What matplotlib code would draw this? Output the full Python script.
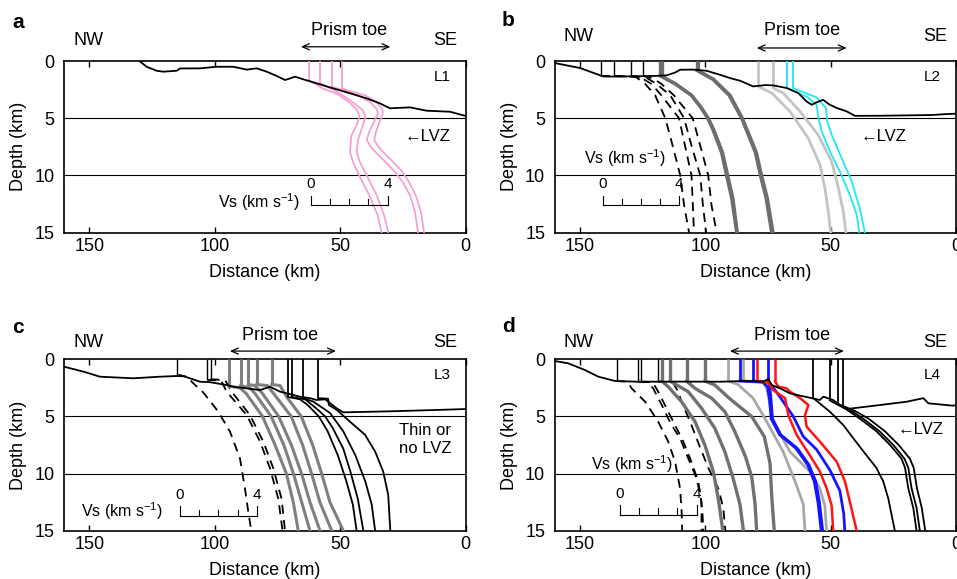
import numpy as np
import matplotlib
matplotlib.use('Agg')
import matplotlib.pyplot as plt

plt.rcParams['font.family'] = ['Liberation Sans', 'DejaVu Sans']
plt.rcParams['mathtext.default'] = 'regular'

VS_KM = 7.65  # km of distance per 1 km/s of Vs (profile scale)

# ---------------- panel a (L1) ----------------
bathy_a_x = [130, 127.2, 123.2, 120.5, 115.2, 113.9, 105.9, 99.3, 92.6, 87.3, 83.3, 79.3, 75.3, 72,
             68, 64.7, 59.4, 52.8, 46.1, 39.5, 34.2, 30.2, 22.2, 15.6, 6.3, 0]
bathy_a_z = [0, 0.5, 0.85, 0.93, 0.85, 0.65, 0.64, 0.5, 0.5, 0.75, 0.64, 0.93, 1.31, 1.66,
             1.37, 1.6, 1.95, 2.39, 2.82, 3.26, 3.7, 4.13, 4.05, 4.34, 4.43, 4.8]

a_pink_x0 = [62.5, 58.1, 53.4, 49.4]
a_pink_z = [
    [1.66, 2.4, 2.9, 3.5, 4.2, 4.8, 5.5, 6.5, 7.9, 8.8, 10.2, 11.7, 13.5, 15],
    [1.95, 2.5, 3.0, 3.6, 4.3, 4.9, 5.6, 6.8, 7.9, 8.8, 10.2, 11.7, 13.5, 15],
    [2.24, 2.6, 3.0, 3.6, 4.2, 4.6, 5.3, 6.2, 6.9, 7.6, 8.6, 9.6, 10.6, 11.8, 13.2, 15],
    [2.4, 2.7, 3.0, 3.6, 4.2, 4.6, 5.3, 6.2, 6.9, 7.6, 8.6, 9.6, 10.6, 11.8, 13.2, 15],
]
a_pink_vs = [
    [0, 0.72, 1.50, 2.03, 2.48, 2.64, 2.52, 2.22, 2.14, 2.29, 2.68, 3.14, 3.59, 3.79],
    [0, 0.67, 1.19, 1.71, 2.24, 2.37, 2.24, 2.0, 1.91, 2.07, 2.50, 2.95, 3.35, 3.56],
    [0, 0.71, 1.36, 2.01, 2.34, 2.41, 2.21, 1.95, 1.82, 2.08, 2.67, 3.25, 3.71, 4.10, 4.34, 4.50],
    [0, 0.58, 1.23, 1.82, 2.12, 2.14, 1.97, 1.78, 1.69, 1.95, 2.54, 3.12, 3.52, 3.87, 4.13, 4.29],
]

# ---------------- panel b (L2) ----------------
bathy_b_x = [160, 150, 140.7, 135, 128, 120, 115.4, 112, 110, 105, 99.5, 94.2, 90, 86.2, 80.9, 76,
             72.9, 67.5, 62.9, 59.6, 57.6, 55.5, 53, 50.5, 47.6, 43.6, 40.3, 30, 20, 10, 5, 0]
bathy_b_z = [0.18, 0.61, 1.35, 1.36, 1.33, 1.3, 1.25, 1.0, 0.76, 0.75, 0.85, 1.2, 1.5, 1.72, 2.22, 2.1,
             2.13, 2.36, 2.8, 3.53, 3.82, 3.6, 3.39, 3.8, 4.1, 4.4, 4.79, 4.78, 4.75, 4.72, 4.65, 4.6]

b_dash_x0 = [141.6, 136.5, 129.5, 125.0]
b_dash_z = [
    [1.3, 1.35, 2, 3, 5, 7, 10, 12.6, 15],
    [1.3, 1.4, 2, 3, 5, 7, 10, 12.6, 15],
    [1.3, 1.45, 2, 3, 5, 7, 10, 12.6, 15],
    [1.3, 1.5, 2, 3, 5, 7, 10, 12.6, 15],
]
b_dash_vs = [
    [0, 1.78, 2.30, 2.82, 3.35, 3.67, 4.13, 4.33, 4.59],
    [0, 1.37, 1.96, 2.48, 3.40, 3.66, 4.05, 4.12, 4.18],
    [0, 0.78, 1.31, 2.03, 2.75, 3.07, 3.59, 3.73, 3.90],
    [0, 0.52, 0.98, 1.63, 2.61, 2.94, 3.42, 3.59, 3.86],
]

b_dark_x0 = [118.0, 117.3, 103.5, 102.8]
b_dark_z = [
    [1.3, 2, 3, 4, 5, 6, 8, 10, 12, 15],
    [1.35, 2, 3, 4, 5, 6, 8, 10, 12, 15],
    [0.8, 1.6, 3, 5, 8, 10, 12, 15],
    [0.85, 1.6, 3, 5, 8, 10, 12, 15],
]
b_dark_vs = [
    [0, 0.78, 1.63, 2.09, 2.48, 2.75, 3.20, 3.46, 3.73, 3.99],
    [0, 0.72, 1.55, 2.02, 2.42, 2.70, 3.16, 3.43, 3.70, 3.93],
    [0, 0.85, 1.70, 2.35, 3.07, 3.33, 3.63, 3.92],
    [0, 0.80, 1.66, 2.30, 3.03, 3.30, 3.60, 3.90],
]

b_light_x0 = [78.9, 72.9]
b_light_z = [[2.22, 2.8, 4.41, 6.74, 9.07, 11.1, 13.2, 15],
             [2.36, 2.8, 4.41, 6.45, 8.8, 11.1, 13.2, 15]]
b_light_vs = [[0, 0.71, 1.66, 2.61, 3.22, 3.48, 3.66, 3.78],
              [0, 0.52, 1.40, 2.34, 3.05, 3.40, 3.66, 3.79]]

b_cyan_x0 = [67.5, 65.1]
b_cyan_z = [[2.36, 3.1, 3.82, 4.84, 6.16, 7.9, 9.66, 11.7, 13.45, 15],
            [2.36, 3.18, 4.11, 5.28, 6.45, 8.49, 10.5, 12.9, 15]]
b_cyan_vs = [[0, 1.03, 1.56, 1.63, 1.82, 2.25, 2.77, 3.29, 3.65, 3.78],
             [0, 1.24, 1.73, 1.80, 2.03, 2.55, 3.07, 3.50, 3.76]]

# ---------------- panel c (L3) ----------------
bathy_c_x = [160, 152, 145.8, 132.5, 121.9, 115.2, 113.9, 109.9, 105.9, 101.9, 95.3, 92.6, 87.3, 82,
             78, 74, 70, 66.1, 62, 59.4, 56, 51.4, 48.8, 30, 10, 0]
bathy_c_z = [0.65, 1.1, 1.52, 1.66, 1.52, 1.46, 1.37, 1.66, 1.96, 2.0, 2.25, 2.4, 2.54, 2.69,
             2.4, 2.83, 3.05, 3.27, 3.4, 3.56, 3.5, 4.29, 4.64, 4.55, 4.42, 4.35]

c_dash_x0 = [115.0, 103.0, 101.7]
c_dash_z = [[1.45, 1.5, 2.1, 2.9, 4.58, 6.33, 8.66, 11.3, 13.3, 15],
            [1.8, 1.85, 2.83, 4.87, 7.2, 9.55, 12.2, 15],
            [1.75, 1.8, 2.83, 4.87, 7.2, 9.55, 12.2, 15]]
c_dash_vs = [[0, 0.50, 0.84, 1.36, 2.14, 2.75, 3.27, 3.53, 3.70, 3.86],
             [0, 0.72, 1.01, 2.05, 2.75, 3.27, 3.70, 3.92],
             [0, 0.75, 1.10, 2.05, 2.75, 3.27, 3.70, 3.88]]

c_gray_x0 = [94.2, 89.7, 86.7, 83.3, 77.3]
c_gray_z = [[2.35, 2.5, 3, 5, 7.5, 10, 12.5, 15],
            [2.3, 2.5, 3, 5, 7.5, 10, 12.5, 15],
            [2.2, 2.3, 3, 5, 7.5, 10, 12.5, 15],
            [2.2, 2.3, 3.3, 5, 7.5, 10, 12.5, 15],
            [2.2, 2.3, 3.4, 5, 7.5, 10, 12.5, 15]]
c_gray_vs = [[0, 0.55, 0.88, 1.73, 2.38, 2.97, 3.33, 3.59],
             [0, 0.48, 0.75, 1.59, 2.25, 2.75, 3.18, 3.61],
             [0, 0.35, 0.75, 1.59, 2.25, 2.78, 3.22, 3.74],
             [0, 0.56, 1.02, 1.80, 2.39, 2.86, 3.29, 3.91],
             [0, 0.43, 0.82, 1.54, 2.13, 2.60, 3.03, 3.73]]

c_black_x0 = [70.7, 69.4, 64.7, 58.8]
c_black_z = [[3.3, 3.5, 4.0, 5, 6.3, 8.4, 10.7, 12.7, 15],
             [3.3, 3.5, 4.4, 5, 6, 7.8, 9.8, 12.2, 15],
             [3.4, 3.7, 4.7, 6.3, 8.4, 10.7, 12.7, 15],
             [3.4, 3.45, 4.0, 4.43, 5.46, 6.6, 8.08, 9.83, 11.87, 15]]
c_black_vs = [[0, 0.61, 1.01, 1.59, 2.05, 2.58, 3.03, 3.36, 3.56],
              [0, 0.71, 1.36, 1.75, 2.14, 2.69, 3.06, 3.45, 3.74],
              [0, 0.52, 1.39, 2.08, 2.71, 3.23, 3.56, 3.74],
              [0, 0.52, 0.56, 0.97, 1.66, 2.44, 2.97, 3.39, 3.65, 3.76]]

# ---------------- panel d (L4) ----------------
bathy_d_x = [160, 154.7, 148, 142.7, 136, 126.8, 110, 94.2, 84.2, 80.9, 76.9, 74.9, 73.5, 70.2, 66.2,
             62.2, 58.3, 54.3, 52.9, 49, 46.3, 43.6, 30.3, 19.7, 13, 11, 1.1, 0]
bathy_d_z = [0.15, 0.35, 0.94, 1.52, 1.9, 1.96, 1.95, 1.96, 1.9, 1.9, 1.96, 1.72, 2.25, 2.54, 2.98,
             3.18, 3.36, 3.56, 3.27, 3.56, 4.0, 4.35, 4.0, 3.71, 3.4, 3.85, 4.06, 4.0]

d_dash_x0 = [135.4, 126.8, 125.7, 119.0]
d_dash_z = [[1.9, 1.95, 2.54, 3.7, 5.46, 7.2, 8.96, 11.3, 13.3, 15],
            [1.95, 2.0, 2.54, 4.0, 5.75, 6.9, 8.66, 10.1, 11.6, 13.3, 15],
            [1.95, 2.0, 2.83, 4.0, 5.46, 7.2, 9.0, 10.7, 12.5, 15],
            [1.95, 2.0, 2.83, 3.7, 5.5, 7.5, 9.5, 11.3, 13, 15]]
d_dash_vs = [[0, 0.58, 0.78, 1.48, 2.17, 2.69, 3.05, 3.31, 3.39, 3.42],
             [0, 0.50, 0.78, 1.23, 1.74, 2.18, 2.61, 2.97, 3.22, 3.35, 3.40],
             [0, 0.61, 0.90, 1.25, 1.69, 2.21, 2.64, 2.99, 3.16, 3.16],
             [0, 0.78, 1.07, 1.24, 1.70, 2.16, 2.64, 3.16, 3.42, 3.53]]

d_dark_x0 = [117.4, 114.1, 107.5, 100.2]
d_dark_z = [[1.9, 2.4, 3.7, 5.46, 7.5, 9.83, 12.2, 15],
            [1.9, 2.83, 4.29, 6.04, 8.08, 10.4, 12.7, 15],
            [1.9, 2.54, 3.4, 4.58, 6.33, 8.5, 10.3, 12.6, 15],
            [1.9, 2.25, 3.4, 5.0, 6.75, 9.1, 12, 15]]
d_dark_vs = [[0, 0.34, 1.03, 1.74, 2.25, 2.69, 2.95, 3.19],
             [0, 0.95, 1.65, 2.34, 2.86, 3.29, 3.65, 3.83],
             [0, 0.44, 1.31, 2.0, 2.52, 3.07, 3.40, 3.57, 3.66],
             [0, 0.52, 1.27, 2.44, 3.10, 3.40, 3.49, 3.62]]

d_light_x0 = [90.8, 84.9]
d_light_z = [[1.9, 2.2, 3.4, 5.46, 8.1, 10.7, 12.7, 15],
             [1.9, 2.0, 2.54, 5.46, 8.08, 9.83, 11.3, 12.8, 15]]
d_light_vs = [[0, 0.50, 1.29, 2.0, 2.86, 3.48, 3.91, 3.99],
              [0, 1.03, 1.23, 1.57, 2.44, 3.48, 4.0, 4.26, 4.35]]

d_blue_x0 = [86.2, 80.9, 74.9]
d_blue_z = [[1.9, 2.0, 2.4, 3.4, 5.2, 6.6, 7.8, 9.25, 10.7, 12.5, 15],
            [1.9, 2.0, 3.3, 5.0, 6.75, 7.9, 9.7, 11.5, 13.5, 15],
            [1.9, 2.4, 3.4, 5.2, 6.6, 7.8, 9.25, 10.7, 12.5, 15]]
d_blue_vs = [[0, 1.20, 1.44, 1.54, 1.63, 2.07, 2.93, 3.54, 3.88, 4.07, 4.24],
             [0, 0.84, 1.40, 2.09, 2.61, 3.31, 4.0, 4.52, 4.72, 4.78],
             [0, 0.08, 0.14, 0.22, 0.65, 1.52, 2.13, 2.48, 2.67, 2.84]]

d_red_x0 = [79.5, 72.2]
d_red_z = [[1.9, 2.0, 2.7, 3.4, 4.9, 6.6, 8.4, 9.8, 11.3, 12.8, 15],
           [1.9, 2.4, 2.54, 2.83, 3.4, 4.0, 4.9, 5.9, 7.2, 8.96, 10.7, 12.5, 15]]
d_red_vs = [[0, 0.59, 0.86, 1.48, 1.65, 2.08, 2.77, 3.29, 3.65, 3.91, 3.99],
            [0, 0.17, 0.60, 0.78, 1.31, 1.74, 1.56, 1.65, 2.34, 3.22, 3.65, 3.91, 4.26]]

d_black_x0 = [56.9, 50.3, 47.0, 45.0]
d_black_z = [[3.4, 4.58, 5.75, 6.9, 8.4, 9.5, 10.7, 12.2, 13.6, 15],
             [3.6, 4.4, 5.2, 6.3, 7.5, 8.7, 9.5, 11.3, 13.0, 15],
             [3.9, 4.4, 5.2, 6.3, 7.5, 8.7, 9.5, 11.3, 13.0, 15],
             [4.1, 4.5, 5.2, 6.3, 7.5, 8.7, 9.5, 11.3, 13.0, 15]]
d_black_vs = [[0, 0.86, 1.56, 2.08, 2.77, 3.29, 3.65, 3.91, 4.08, 4.25],
              [0, 0.88, 1.57, 2.43, 3.14, 3.74, 3.92, 4.09, 4.35, 4.52],
              [0, 0.59, 1.31, 2.16, 2.88, 3.46, 3.66, 3.83, 4.09, 4.26],
              [0, 0.60, 1.33, 2.18, 2.90, 3.48, 3.68, 3.85, 4.10, 4.28]]

# prism toe extent (km)
toe_a = (65.7, 30.0)
toe_b = (79.5, 43.6)
toe_c = (94.0, 51.7)
toe_d = (90.2, 44.7)

DASH = (0, (5, 3.5))


def draw_profiles(ax, x0s, zs, vss, color, lw, dashed=False):
    for x0, z, vs in zip(x0s, zs, vss):
        z = np.asarray(z)
        vs = np.asarray(vs)
        # water column (Vs = 0) from the sea surface to the seafloor
        ax.plot([x0, x0], [0, z[0]], color=color, lw=1.0 if dashed else lw,
                solid_capstyle='butt', zorder=3)
        ax.plot(x0 - VS_KM * vs, z, color=color, lw=lw,
                ls=DASH if dashed else '-', zorder=3)


def vs_bar(ax, x_start, z_bar, lab_x, lab_z, lab_ha):
    v = np.arange(5)
    xs = x_start - VS_KM * v
    ax.plot([xs[0], xs[-1]], [z_bar, z_bar], color='k', lw=0.8, zorder=4)
    for vi, x in zip(v, xs):
        h = 0.85 if vi in (0, 4) else 0.55
        ax.plot([x, x], [z_bar, z_bar - h], color='k', lw=0.8, zorder=4)
    ax.text(xs[0], z_bar - 1.85, '0', ha='center', va='center', fontsize=11)
    ax.text(xs[-1], z_bar - 1.85, '4', ha='center', va='center', fontsize=11)
    ax.text(lab_x, lab_z, 'Vs (km s$^{-1}$)', ha=lab_ha, va='center', fontsize=11.5)


def setup(ax, letter, letter_xy, line_name, toe, toe_text_x, y_dir, y_toe, y_arrow):
    ax.set_xlim(160, 0)
    ax.set_ylim(15, 0)
    ax.set_xticks([150, 100, 50, 0])
    ax.set_yticks([0, 5, 10, 15])
    ax.tick_params(axis='x', direction='in', top=True, length=4, width=1,
                   labelsize=13, pad=4)
    ax.tick_params(axis='y', length=0, labelsize=13, pad=7)
    for s in ax.spines.values():
        s.set_linewidth(1.2)
    ax.axhline(5, color='k', lw=0.8, zorder=1)
    ax.axhline(10, color='k', lw=0.8, zorder=1)
    ax.set_xlabel('Distance (km)', fontsize=13)
    ax.xaxis.set_label_coords(0.5, -0.185)
    ax.set_ylabel('Depth (km)', fontsize=13)
    ax.yaxis.set_label_coords(-0.092, 0.5)
    tr = ax.get_xaxis_transform()
    ax.text(150.5, y_dir, 'NW', transform=tr, ha='center', va='center', fontsize=13)
    ax.text(8.2, y_dir, 'SE', transform=tr, ha='center', va='center', fontsize=13)
    ax.text(toe_text_x, y_toe, 'Prism toe', transform=tr, ha='center', va='center', fontsize=13)
    ax.annotate('', xy=(toe[0], y_arrow), xytext=(toe[1], y_arrow), xycoords=tr,
                textcoords=tr, annotation_clip=False,
                arrowprops=dict(arrowstyle='<->,head_length=0.5,head_width=0.22',
                                lw=0.9, color='k', shrinkA=0, shrinkB=0))
    ax.text(9.5, 1.4, line_name, ha='center', va='center', fontsize=11)
    fig.text(letter_xy[0], letter_xy[1], letter, fontsize=15, fontweight='bold',
             ha='center', va='center')


fig = plt.figure(figsize=(9.57, 5.79), dpi=100)
ax_a = fig.add_axes([0.0672, 0.5981, 0.4194, 0.2965])
ax_b = fig.add_axes([0.5799, 0.5981, 0.4190, 0.2965])
ax_c = fig.add_axes([0.0672, 0.0834, 0.4194, 0.2960])
ax_d = fig.add_axes([0.5799, 0.0834, 0.4190, 0.2960])

# a
setup(ax_a, 'a', (0.019, 0.962), 'L1', toe_a, 46.5, 1.122, 1.18, 1.083)
draw_profiles(ax_a, a_pink_x0, a_pink_z, a_pink_vs, '#f79ad0', 1.2)
ax_a.plot(bathy_a_x, bathy_a_z, color='k', lw=1.3, zorder=5)
ax_a.text(15, 6.6, '\u2190LVZ', ha='center', va='center', fontsize=12)
vs_bar(ax_a, 61.7, 12.6, 66.0, 12.3, 'right')

# b
setup(ax_b, 'b', (0.531, 0.965), 'L2', toe_b, 61.6, 1.14, 1.178, 1.076)
ax_b.plot(bathy_b_x, bathy_b_z, color='k', lw=1.3, zorder=5)
draw_profiles(ax_b, b_dash_x0, b_dash_z, b_dash_vs, 'k', 1.3, dashed=True)
draw_profiles(ax_b, b_dark_x0, b_dark_z, b_dark_vs, '#6d6d6d', 2.4)
draw_profiles(ax_b, b_light_x0, b_light_z, b_light_vs, '#c4c4c4', 2.0)
draw_profiles(ax_b, b_cyan_x0, b_cyan_z, b_cyan_vs, '#1ee8f2', 1.3)
ax_b.text(29, 6.6, '\u2190LVZ', ha='center', va='center', fontsize=12)
vs_bar(ax_b, 141.0, 12.6, 132.0, 8.5, 'center')

# c
setup(ax_c, 'c', (0.019, 0.434), 'L3', toe_c, 74.0, 1.097, 1.138, 1.048)
ax_c.plot(bathy_c_x, bathy_c_z, color='k', lw=1.3, zorder=5)
draw_profiles(ax_c, c_dash_x0, c_dash_z, c_dash_vs, 'k', 1.3, dashed=True)
draw_profiles(ax_c, c_gray_x0, c_gray_z, c_gray_vs, '#7f7f7f', 2.2)
draw_profiles(ax_c, c_black_x0, c_black_z, c_black_vs, 'k', 1.3)
ax_c.text(16.2, 7.0, 'Thin or\nno LVZ', ha='center', va='center', fontsize=12,
          linespacing=1.25)
vs_bar(ax_c, 113.9, 13.7, 120.5, 13.33, 'right')

# d
setup(ax_d, 'd', (0.531, 0.436), 'L4', toe_d, 65.5, 1.097, 1.138, 1.048)
ax_d.plot(bathy_d_x, bathy_d_z, color='k', lw=1.3, zorder=5)
draw_profiles(ax_d, d_dash_x0, d_dash_z, d_dash_vs, 'k', 1.3, dashed=True)
draw_profiles(ax_d, d_dark_x0, d_dark_z, d_dark_vs, '#707070', 2.4)
draw_profiles(ax_d, d_light_x0, d_light_z, d_light_vs, '#a8a8a8', 2.0)
draw_profiles(ax_d, d_blue_x0, d_blue_z, d_blue_vs, '#1414ff', 2.0)
draw_profiles(ax_d, d_red_x0, d_red_z, d_red_vs, '#ff1414', 1.8)
draw_profiles(ax_d, d_black_x0, d_black_z, d_black_vs, 'k', 1.3)
ax_d.text(14.3, 6.1, '\u2190LVZ', ha='center', va='center', fontsize=12)
vs_bar(ax_d, 134.1, 13.6, 129.4, 9.2, 'center')

fig.savefig('out.png', dpi=100)
